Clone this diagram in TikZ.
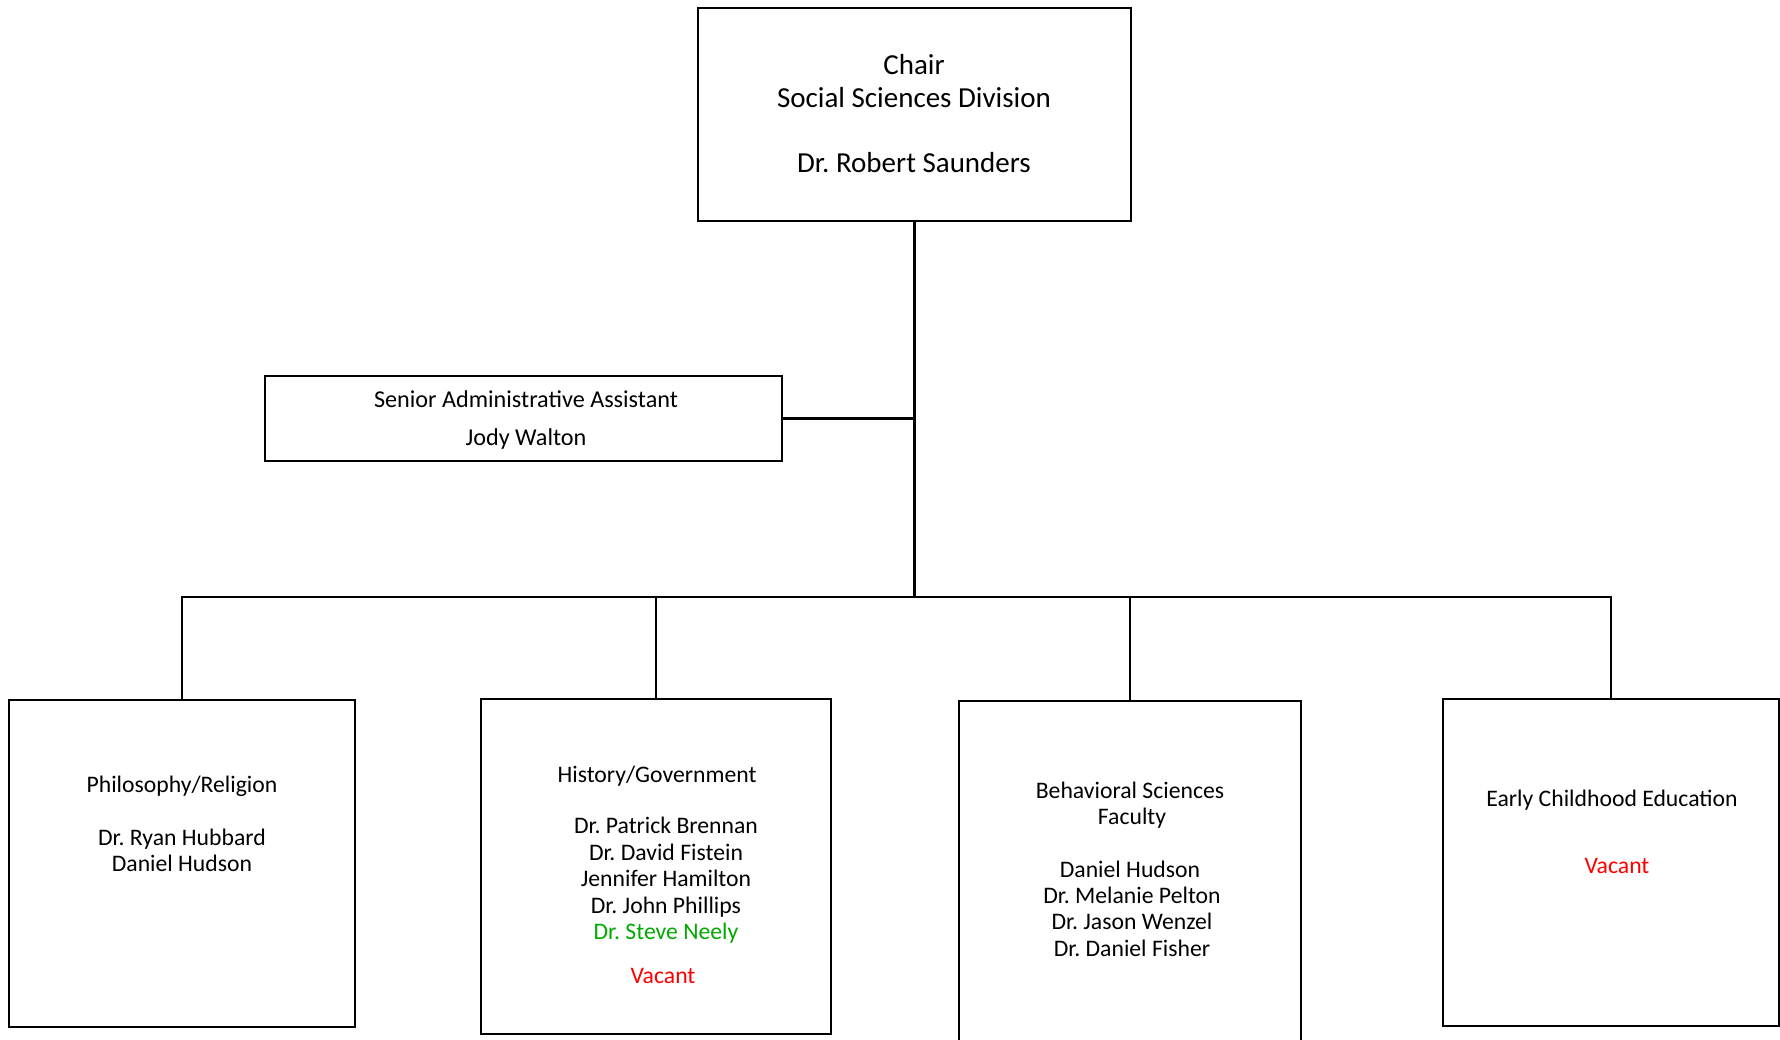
\documentclass[tikz,border=0pt]{standalone}
\usepackage{fontspec}
\setmainfont{Carlito}
\frenchspacing
\definecolor{nameGreen}{RGB}{0,170,0}
\definecolor{vacRed}{RGB}{255,0,0}
\tikzset{
  orgbox/.style={draw=black, line width=2.6pt, rectangle, inner sep=0pt, fill=white},
  conn/.style={draw=black, line width=2.2pt},
  mainconn/.style={draw=black, line width=3pt},
  ln/.style={anchor=base, inner sep=0pt, font=\fontsize{23.7}{26}\selectfont},
  lnchair/.style={anchor=base, inner sep=0pt, font=\fontsize{29}{33}\selectfont},
  lnsen/.style={anchor=base, inner sep=0pt, font=\fontsize{24.2}{28}\selectfont},
}
\begin{document}
\begin{tikzpicture}[x=1pt, y=-1pt]
\useasboundingbox (0,0) rectangle (1780,1039);
\clip (0,0) rectangle (1780,1039);
\fill[white] (0,0) rectangle (1780,1039);

% boxes
\node[orgbox, minimum width=433pt, minimum height=213pt] (chair) at (914.5,114.5) {};
\node[orgbox, minimum width=517pt, minimum height=85pt] (senior) at (523.5,418.5) {};
\node[orgbox, minimum width=346pt, minimum height=327pt] (phil) at (182,863.5) {};
\node[orgbox, minimum width=350pt, minimum height=335pt] (hist) at (656,866.5) {};
\node[orgbox, minimum width=342pt, minimum height=349pt] (behav) at (1130,875.5) {};
\node[orgbox, minimum width=336pt, minimum height=327pt] (early) at (1611,862.5) {};

\coordinate (bus) at (914,597);

% connectors
\draw[mainconn] (chair.south) -- (chair.south |- bus);
\draw[conn] (senior.east) -- (senior.east -| chair.south);
\draw[conn] (phil.north) |- (early.north |- bus) -- (early.north);
\draw[conn] (hist.north) -- (hist.north |- bus);
\draw[conn] (behav.north) -- (behav.north |- bus);

% chair text
\node[lnchair] (c1) at (914,74) {Chair};
\node[lnchair] (c2) at (914,107) {Social Sciences Division};
\node[lnchair] (c3) at (914,172) {Dr. Robert Saunders};

% senior text
\node[lnsen] (s1) at (526,407) {Senior Administrative Assistant};
\node[lnsen] (s2) at (526,445) {Jody Walton};

% philosophy
\node[ln] (p1) at (182,792) {Philosophy/Religion};
\node[ln] (p2) at (182,845) {Dr. Ryan Hubbard};
\node[ln] (p3) at (182,871) {Daniel Hudson};

% history
\node[ln] (h1) at (657,782) {History/Government};
\node[ln] (h2) at (666,833) {Dr. Patrick Brennan};
\node[ln] (h3) at (666,860) {Dr. David Fistein};
\node[ln] (h4) at (666,886) {Jennifer Hamilton};
\node[ln] (h5) at (666,913) {Dr. John Phillips};
\node[ln, text=nameGreen] (h6) at (666,939) {Dr. Steve Neely};
\node[ln, text=vacRed] (h7) at (663,983) {Vacant};

% behavioral
\node[ln] (b1) at (1130,798) {Behavioral Sciences};
\node[ln] (b2) at (1132,824) {Faculty};
\node[ln] (b3) at (1130,877) {Daniel Hudson};
\node[ln] (b4) at (1132,903) {Dr. Melanie Pelton};
\node[ln] (b5) at (1132,929) {Dr. Jason Wenzel};
\node[ln] (b6) at (1132,956) {Dr. Daniel Fisher};

% early childhood
\node[ln] (e1) at (1612,806) {Early Childhood Education};
\node[ln, text=vacRed] (e2) at (1617,873) {Vacant};
\end{tikzpicture}
\end{document}
